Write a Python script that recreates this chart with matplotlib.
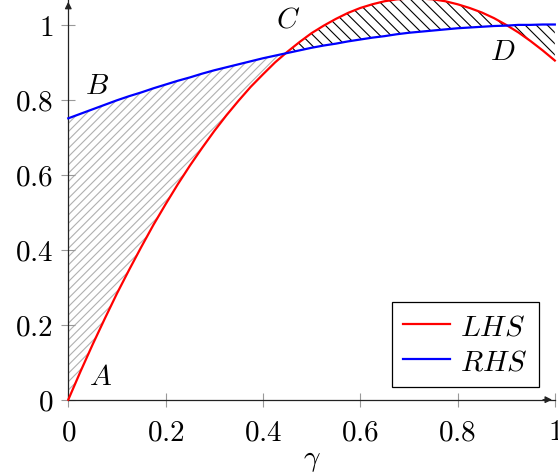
import numpy as np
import matplotlib
matplotlib.use('Agg')
from matplotlib import pyplot as plt

plt.rcParams['mathtext.fontset'] = 'cm'
plt.rcParams['font.family'] = 'serif'
plt.rcParams['font.serif'] = ['cmr10', 'DejaVu Serif']
plt.rcParams['hatch.linewidth'] = 0.8

# values
gamma = np.array([0.0, 0.025, 0.05, 0.075, 0.1, 0.125, 0.15, 0.175, 0.2, 0.225,
                  0.25, 0.275, 0.3, 0.325, 0.35, 0.375, 0.4, 0.425, 0.45, 0.475,
                  0.5, 0.525, 0.55, 0.575, 0.6, 0.625, 0.65, 0.675, 0.7, 0.725,
                  0.75, 0.775, 0.8, 0.825, 0.85, 0.875, 0.9, 0.925, 0.95, 0.975, 1.0])
lhs = np.array([0.0, 0.075, 0.147, 0.216, 0.283, 0.346, 0.407, 0.466, 0.521, 0.574,
                0.624, 0.671, 0.716, 0.758, 0.797, 0.834, 0.867, 0.899, 0.927, 0.953,
                0.977, 0.997, 1.015, 1.031, 1.044, 1.054, 1.062, 1.067, 1.069, 1.069,
                1.067, 1.062, 1.054, 1.044, 1.032, 1.017, 0.999, 0.979, 0.956, 0.931, 0.904])
rhs = np.array([0.75, 0.762, 0.774, 0.786, 0.798, 0.809, 0.819, 0.830, 0.84, 0.850,
                0.859, 0.869, 0.878, 0.886, 0.894, 0.902, 0.91, 0.917, 0.924, 0.931,
                0.938, 0.944, 0.949, 0.955, 0.96, 0.965, 0.969, 0.974, 0.978, 0.981,
                0.984, 0.987, 0.99, 0.992, 0.994, 0.996, 0.997, 0.999, 0.999, 1.0, 1.0])
ticks = [0, 0.2, 0.4, 0.6, 0.8, 1]
tick_labels = ['$0$', '$0.2$', '$0.4$', '$0.6$', '$0.8$', '$1$']
point_names = ['A', 'B', 'C', 'D']
point_pos = [(0.067, 0.06), (0.059, 0.836), (0.452, 1.015), (0.892, 0.927)]

fig = plt.figure(figsize=(5.58, 4.77), dpi=100)
ax = fig.add_axes([0.1224, 0.160, 0.8719, 0.840])

left = gamma <= 0.45
right = gamma >= 0.45
ax.fill_between(gamma, lhs, rhs, where=left, facecolor='none', edgecolor='#b0b0b0',
                linewidth=0, hatch='////')
ax.fill_between(gamma, lhs, rhs, where=right, facecolor='none', edgecolor='black',
                linewidth=0, hatch='\\\\\\')

ax.plot(gamma, lhs, color='red', lw=1.6, label='$LHS$', clip_on=False, zorder=3)
ax.plot(gamma, rhs, color='blue', lw=1.6, label='$RHS$', clip_on=False, zorder=3)

for name, (px, py) in zip(point_names, point_pos):
    ax.text(px, py, '$' + name + '$', fontsize=21, ha='center', va='center')

ax.set_xlim(0, 1)
ax.set_ylim(0, 1.068)
ax.spines['top'].set_visible(False)
ax.spines['right'].set_visible(False)
for s in ['left', 'bottom']:
    ax.spines[s].set_color('#222222')
    ax.spines[s].set_linewidth(0.9)

# arrow heads on axes
ax.annotate('', xy=(1.0, 0), xytext=(0.97, 0), xycoords='axes fraction',
            arrowprops=dict(arrowstyle='-|>', color='#222222', lw=0.9, mutation_scale=10))
ax.annotate('', xy=(0, 1.0), xytext=(0, 0.97), xycoords='axes fraction',
            arrowprops=dict(arrowstyle='-|>', color='#222222', lw=0.9, mutation_scale=10))

ax.set_xticks(ticks)
ax.set_xticklabels(tick_labels)
ax.set_yticks(ticks)
ax.set_yticklabels(tick_labels)
ax.tick_params(direction='inout', length=10, width=0.8, color='#999999', labelsize=21)
ax.tick_params(axis='y', pad=6)
ax.tick_params(axis='x', pad=9)
ax.set_xlabel(r'$\gamma$', fontsize=21, labelpad=1)

leg = ax.legend(loc='lower right', bbox_to_anchor=(0.9675, 0.032), borderaxespad=0,
                fontsize=21, fancybox=False, edgecolor='black', framealpha=1,
                handlelength=1.6, handletextpad=0.35, borderpad=0.4, labelspacing=0.3)
leg.get_frame().set_linewidth(0.9)

plt.savefig('out.png', dpi=100)
